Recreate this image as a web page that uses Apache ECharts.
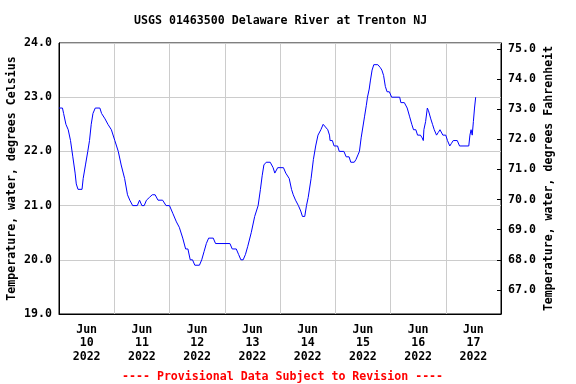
<!DOCTYPE html>
<html>
<head>
<meta charset="utf-8">
<script src="https://cdn.jsdelivr.net/npm/echarts@6/dist/echarts.min.js"></script>
<style>html,body{margin:0;padding:0;background:#fff}#c{width:576px;height:384px}</style>
</head>
<body>
<div id="c"></div>
<script>
// Hours since 2022-06-10 00:00 and water temperature (deg C)
var hours = [0,1.5,2,3,4,5,6,7,7.5,8.25,10,10.5,11.5,12.5,13.25,14,14.75,15.75,17.75,18.5,20,21.25,22.75,24.25,25.75,27,28.5,29.75,30.75,32,34,35,36,37,38,39.25,40.5,41.75,43,45,46.5,48,49.5,51,52.25,53.75,55,56,57,58,59,61,62,63,64,65,67,68,74.25,75.25,77,78,79,80,81,82,83.5,85,86.5,87.5,88.25,89,90,91.75,93,93.75,95,97.5,98.5,100,101,101.75,102.75,104,105,105.75,106.75,107.5,108.25,109.5,110.5,111.5,112.5,113.75,114.75,115.5,116.75,117.5,117.75,118.75,119.5,121,121.75,123.75,124.75,126,126.75,128.25,129,130,130.5,131.25,132,132.75,133.5,134,134.75,135.25,136,136.75,138.5,139.5,140.25,141,141.75,142.5,143.5,144.5,148,148.5,150,151.25,152.25,153.25,154,155,155.75,157,157.75,158.25,158.5,159.25,160,160.5,161.5,162.25,163,164,164.75,165.5,166,166.75,168,168.75,169.75,170.5,171.25,173,174,178,178.5,179,179.5,180,180.5,181];
var tempC = [22.8,22.8,22.7,22.5,22.4,22.2,21.9,21.6,21.4,21.3,21.3,21.5,21.75,22.0,22.2,22.5,22.7,22.8,22.8,22.7,22.6,22.5,22.4,22.2,22.0,21.75,21.5,21.2,21.1,21.0,21.0,21.1,21.0,21.0,21.1,21.15,21.2,21.2,21.1,21.1,21.0,21.0,20.85,20.7,20.6,20.4,20.2,20.2,20.0,20.0,19.9,19.9,20.0,20.15,20.3,20.4,20.4,20.3,20.3,20.2,20.2,20.1,20.0,20.0,20.1,20.25,20.5,20.8,21.0,21.3,21.55,21.75,21.8,21.8,21.7,21.6,21.7,21.7,21.6,21.5,21.3,21.2,21.1,21.0,20.9,20.8,20.8,21.0,21.15,21.5,21.85,22.1,22.3,22.4,22.5,22.5,22.4,22.3,22.2,22.2,22.1,22.1,22.0,22.0,21.9,21.9,21.8,21.8,21.85,21.95,22.0,22.25,22.45,22.65,22.85,23.0,23.15,23.3,23.5,23.6,23.6,23.55,23.5,23.4,23.2,23.1,23.1,23.0,23.0,22.9,22.9,22.8,22.65,22.5,22.4,22.4,22.3,22.3,22.25,22.2,22.4,22.55,22.8,22.75,22.6,22.5,22.4,22.3,22.35,22.4,22.4,22.3,22.3,22.2,22.1,22.15,22.2,22.2,22.1,22.1,22.3,22.4,22.3,22.55,22.8,23.0];
var dayLabels = ['Jun\n10\n2022','Jun\n11\n2022','Jun\n12\n2022','Jun\n13\n2022','Jun\n14\n2022','Jun\n15\n2022','Jun\n16\n2022','Jun\n17\n2022'];
var fahrenheitTicks = [67,68,69,70,71,72,73,74,75];
var titleText = 'USGS 01463500 Delaware River at Trenton NJ';
var footerText = '---- Provisional Data Subject to Revision ----';
var leftName = 'Temperature, water, degrees Celsius';
var rightName = 'Temperature, water, degrees Fahrenheit';

var FONT = 'DejaVu Sans Mono';
var txt = {fontFamily: FONT, fontWeight: 'bold', fontSize: 11.6, color: '#000'};
var data = hours.map(function(h, i){ return [h, tempC[i]]; });
var chart = echarts.init(document.getElementById('c'), null, {renderer: 'canvas'});
chart.setOption({
  animation: false,
  backgroundColor: '#fff',
  title: [
    {text: titleText, left: 129, top: 10, textStyle: Object.assign({}, txt)},
    {text: footerText, left: 117, top: 366, textStyle: Object.assign({}, txt, {color: '#ff0000'})}
  ],
  grid: {left: 59, right: 75, top: 43, height: 271, show: true, borderColor: '#000', borderWidth: 1, backgroundColor: 'transparent', containLabel: false, outerBoundsMode: 'none'},
  xAxis: [
    {type: 'value', min: 0, max: 192, interval: 24,
     axisLine: {show: true, lineStyle: {color: '#000'}}, axisTick: {show: false}, axisLabel: {show: false},
     splitLine: {show: true, lineStyle: {color: '#cccccc', width: 1}}},
    {type: 'category', position: 'bottom', data: dayLabels, boundaryGap: true,
     axisLine: {show: false}, axisTick: {show: false}, splitLine: {show: false},
     axisLabel: Object.assign({}, txt, {margin: 9, lineHeight: 13.5, interval: 0})}
  ],
  yAxis: [
    {type: 'value', min: 19, max: 24, interval: 1, position: 'left',
     name: leftName, nameLocation: 'middle', nameGap: 41, nameRotate: 90, nameMoveOverlap: false, nameTextStyle: Object.assign({}, txt),
     axisLine: {show: true, lineStyle: {color: '#000'}}, axisTick: {show: false},
     axisLabel: Object.assign({}, txt, {margin: 7, formatter: function(v){ return v.toFixed(1); }}),
     splitLine: {show: true, lineStyle: {color: '#cccccc', width: 1}}},
    {type: 'value', min: 66.2, max: 75.2, position: 'right',
     name: rightName, nameLocation: 'middle', nameGap: 42, nameRotate: 90, nameMoveOverlap: false, nameTextStyle: Object.assign({}, txt),
     axisLine: {show: true, lineStyle: {color: '#000'}},
     axisTick: {show: true, inside: true, length: 4, customValues: fahrenheitTicks, lineStyle: {color: '#000'}},
     axisLabel: Object.assign({}, txt, {margin: 7, customValues: fahrenheitTicks, formatter: function(v){ return (+v).toFixed(1); }}),
     splitLine: {show: false}}
  ],
  series: [{
    type: 'line', xAxisIndex: 0, yAxisIndex: 0, data: data, showSymbol: false, symbol: 'none',
    lineStyle: {color: '#0000ff', width: 1}, silent: true
  }]
});
</script>
</body>
</html>
